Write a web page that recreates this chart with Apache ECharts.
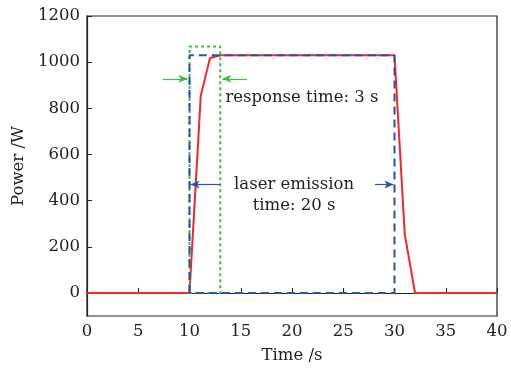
<!DOCTYPE html>
<html>
<head>
<meta charset="utf-8">
<script src="https://cdn.jsdelivr.net/npm/echarts@6/dist/echarts.min.js"></script>
<style>
  html, body { margin: 0; padding: 0; background: #fff; }
  #chart { width: 511px; height: 369px; }
</style>
</head>
<body>
<div id="chart"></div>
<script>
// measured power (red)
const powerX = [0, 10, 11.1, 12, 13, 30, 31, 32, 40];
const powerY = [0, 0, 855, 1018, 1030, 1030, 255, 0, 0];
// laser emission window (blue dashed)
const emitX = [10, 10, 30, 30, 10];
const emitY = [0, 1030, 1030, 0, 0];
// response window (green dotted)
const respX = [10, 10, 13, 13, 10];
const respY = [0, 1068, 1068, 0, 0];
const yTicks = [0, 200, 400, 600, 800, 1000, 1200];

const pairs = (xs, ys) => xs.map((x, i) => [x, ys[i]]);
const font = "DejaVu Serif";
const fs = 16.5;

const chart = echarts.init(document.getElementById("chart"));
chart.setOption({
  animation: false,
  grid: {
    left: 87, right: 14, top: 16, bottom: 53,
    show: true, borderColor: "#222", borderWidth: 1.2,
  },
  xAxis: {
    type: "value", min: 0, max: 40, interval: 5,
    name: "Time /s", nameLocation: "middle", nameGap: 31,
    nameTextStyle: { fontFamily: font, fontSize: fs, color: "#222" },
    axisLine: { lineStyle: { color: "#222", width: 1.2 } },
    axisTick: { inside: true, length: 5, lineStyle: { color: "#222" } },
    axisLabel: { fontFamily: font, fontSize: fs, color: "#222", margin: 7 },
    splitLine: { show: false },
  },
  yAxis: {
    type: "value", min: -100, max: 1200,
    name: "Power /W", nameLocation: "middle", nameGap: 53,
    nameTextStyle: { fontFamily: font, fontSize: fs, color: "#222" },
    axisLine: { show: true, lineStyle: { color: "#222", width: 1.2 } },
    axisTick: { inside: true, length: 5, customValues: yTicks, lineStyle: { color: "#222" } },
    axisLabel: {
      fontFamily: font, fontSize: fs, color: "#222", margin: 7,
      customValues: yTicks, formatter: (v) => String(v),
    },
    splitLine: { show: false },
  },
  series: [
    {
      type: "line", data: pairs(powerX, powerY), symbol: "none",
      lineStyle: { color: "#f02828", width: 2 },
    },
    {
      type: "line", data: pairs(respX, respY), symbol: "none",
      lineStyle: { color: "#3cbf3c", width: 2, type: [3, 3] },
      markLine: {
        silent: true, symbol: ["none", "arrow"], symbolSize: [6, 9],
        lineStyle: { color: "#3cbf3c", width: 1.2, type: "solid" },
        label: { show: false },
        data: [
          [{ coord: [7.4, 928] }, { coord: [9.8, 928] }],
          [{ coord: [15.6, 928] }, { coord: [13.2, 928] }],
        ],
      },
      markPoint: {
        symbol: "circle", symbolSize: 0,
        label: {
          show: true, position: "right", distance: 0,
          fontFamily: font, fontSize: fs, color: "#222",
          formatter: "response time: 3 s",
        },
        data: [{ coord: [13.5, 845] }],
      },
    },
    {
      type: "line", data: pairs(emitX, emitY), symbol: "none",
      lineStyle: { color: "#2b4fb5", width: 2, type: [8, 5] },
      markLine: {
        silent: true, symbol: ["none", "arrow"], symbolSize: [6, 9],
        lineStyle: { color: "#2b4fb5", width: 1.2, type: "solid" },
        label: { show: false },
        data: [
          [{ coord: [13, 470] }, { coord: [10.1, 470] }],
          [{ coord: [28.1, 470] }, { coord: [29.9, 470] }],
        ],
      },
      markPoint: {
        symbol: "circle", symbolSize: 0,
        label: {
          show: true, position: "inside",
          fontFamily: font, fontSize: fs, color: "#222", lineHeight: 21, align: "center",
          formatter: "laser emission\ntime: 20 s",
        },
        data: [{ coord: [20.2, 425] }],
      },
    },
  ],
});
</script>
</body>
</html>
